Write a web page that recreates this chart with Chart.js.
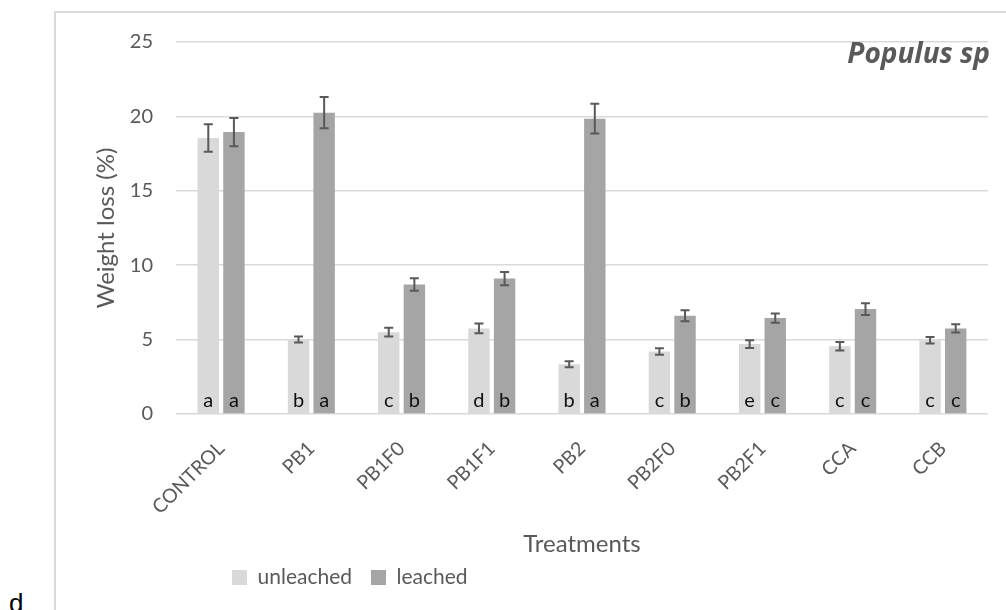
<!DOCTYPE html>
<html><head><meta charset="utf-8">
<script src="https://cdn.jsdelivr.net/npm/chart.js@4.4.1/dist/chart.umd.min.js"></script>
<style>
html,body{margin:0;padding:0;background:#fff;}
#wrap{position:relative;width:1006px;height:610px;overflow:hidden;}
#frame{position:absolute;left:54px;top:11px;width:1000px;height:700px;border-left:2px solid #d9d9d9;border-top:2px solid #d9d9d9;}
#lab{position:absolute;left:9px;top:590px;font-size:26px;line-height:26px;font-family:"Liberation Sans",Arial,sans-serif;color:#000;}
canvas{position:absolute;left:0;top:0;}
</style></head><body>
<div id="wrap"><div id="frame"></div><div id="lab">d</div><canvas id="c" width="1006" height="610"></canvas></div>
<script>
const categories = ['CONTROL','PB1','PB1F0','PB1F1','PB2','PB2F0','PB2F1','CCA','CCB'];
const seriesNames = ['unleached','leached'];
const unleached = [18.55, 5.0, 5.5, 5.75, 3.35, 4.2, 4.7, 4.55, 4.95];
const leached = [18.95, 20.25, 8.7, 9.1, 19.85, 6.6, 6.45, 7.05, 5.75];
const unleachedErr = [0.93, 0.2, 0.3, 0.33, 0.2, 0.22, 0.26, 0.29, 0.22];
const leachedErr = [0.95, 1.05, 0.42, 0.45, 1.0, 0.37, 0.31, 0.4, 0.28];
const unleachedLetters = ['a','b','c','d','b','c','e','c','c'];
const leachedLetters = ['a','a','b','b','a','b','c','c','c'];
const yTicks = [0,5,10,15,20,25];
const chartTitle = 'Populus sp';
const yTitle = 'Weight loss (%)';
const xTitle = 'Treatments';

const TXT = '#595959';
const errs = [unleachedErr, leachedErr];
const letters = [unleachedLetters, leachedLetters];

const errorBars = {
  id: 'errorBars',
  afterDatasetsDraw(chart) {
    const {ctx, scales: {y}} = chart;
    ctx.save();
    ctx.strokeStyle = '#595959';
    ctx.lineWidth = 2;
    chart.data.datasets.forEach((ds, di) => {
      chart.getDatasetMeta(di).data.forEach((bar, i) => {
        const v = ds.data[i], e = errs[di][i];
        const x = bar.x, y1 = y.getPixelForValue(v + e), y2 = y.getPixelForValue(v - e);
        ctx.beginPath();
        ctx.moveTo(x, y1); ctx.lineTo(x, y2);
        ctx.moveTo(x - 4.5, y1); ctx.lineTo(x + 4.5, y1);
        ctx.moveTo(x - 4.5, y2); ctx.lineTo(x + 4.5, y2);
        ctx.stroke();
      });
    });
    ctx.restore();
  }
};

const letterLabels = {
  id: 'letterLabels',
  afterDatasetsDraw(chart) {
    const {ctx, scales: {y}} = chart;
    const y0 = y.getPixelForValue(0);
    ctx.save();
    ctx.fillStyle = '#111';
    ctx.font = '20px Lato';
    ctx.textAlign = 'center';
    ctx.textBaseline = 'alphabetic';
    chart.data.datasets.forEach((ds, di) => {
      chart.getDatasetMeta(di).data.forEach((bar, i) => {
        ctx.fillText(letters[di][i], bar.x, y0 - 7);
      });
    });
    ctx.restore();
  }
};

const cornerTitle = {
  id: 'cornerTitle',
  afterDraw(chart) {
    const {ctx, chartArea} = chart;
    ctx.save();
    ctx.fillStyle = TXT;
    ctx.font = 'italic bold 28px "Open Sans"';
    ctx.textAlign = 'right';
    ctx.textBaseline = 'alphabetic';
    ctx.fillText(chartTitle, chartArea.right + 2, chartArea.top + 21);
    ctx.restore();
  }
};

const legendPlace = {
  id: 'legendPlace',
  afterLayout(chart) {
    const lg = chart.legend;
    lg.left = 213;
    lg.top = 548;
  }
};

new Chart(document.getElementById('c'), {
  type: 'bar',
  data: {
    labels: categories,
    datasets: [
      {label: seriesNames[0], data: unleached, backgroundColor: '#d9d9d9', categoryPercentage: 0.568, barPercentage: 0.836},
      {label: seriesNames[1], data: leached, backgroundColor: '#a5a5a5', categoryPercentage: 0.568, barPercentage: 0.836}
    ]
  },
  options: {
    responsive: false,
    animation: false,
    events: [],
    layout: {padding: {left: 88, right: 18, top: 42, bottom: 9}},
    plugins: {
      legend: {
        position: 'bottom',
        align: 'start',
        maxHeight: 38,
        labels: {boxWidth: 15, boxHeight: 15, padding: 19, color: TXT, font: {family: 'Lato', size: 21}}
      },
      title: {display: false},
      tooltip: {enabled: false}
    },
    scales: {
      x: {
        grid: {display: false},
        border: {display: false},
        ticks: {color: TXT, font: {family: 'Lato', size: 19.5}, minRotation: 45, maxRotation: 45, padding: 15},
        title: {display: true, text: xTitle, color: TXT, font: {family: 'Lato', size: 24}},
        afterFit(s) { s.height = 149; }
      },
      y: {
        min: 0, max: 25,
        afterBuildTicks(s) { s.ticks = yTicks.map(v => ({value: v})); },
        grid: {color: '#d9d9d9', lineWidth: 1.5, drawTicks: false},
        border: {display: false},
        ticks: {color: TXT, font: {family: 'Lato', size: 20}, padding: 23},
        title: {display: true, text: yTitle, color: TXT, font: {family: 'Lato', size: 24}},
        afterFit(s) { s.width = 88; }
      }
    }
  },
  plugins: [errorBars, letterLabels, cornerTitle, legendPlace]
});
</script>
</body></html>
